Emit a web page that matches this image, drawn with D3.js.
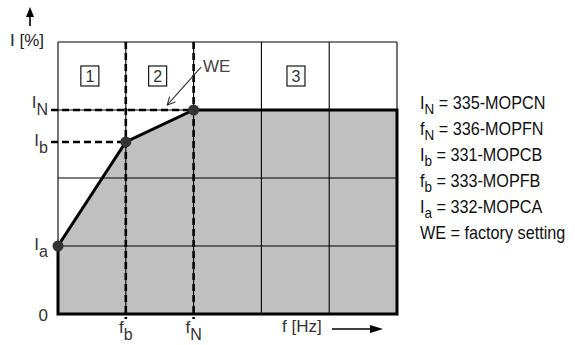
<!DOCTYPE html>
<html><head><meta charset="utf-8">
<script src="https://cdn.jsdelivr.net/npm/d3@7"></script>
<style>body{margin:0;background:#fff}</style></head>
<body><svg id="c" width="575" height="345"></svg>
<script>
// ---- data ----
const curveF = [0, 0, 1, 2, 5, 5];          // outline of operating area (f, in grid units)
const curveI = [0, 1, 2.53, 3, 3, 0];       // (I, in grid units)
const pointF = [0, 1, 2];                   // Ia, Ib, IN points
const pointI = [1, 2.53, 3];
const yTickValues = [0, 1, 2.53, 3];
const yTickMain = ["0", "I", "I", "I"];
const yTickSub = ["", "a", "b", "N"];
const xTickValues = [1, 2];
const xTickMain = ["f", "f"];
const xTickSub = ["b", "N"];
const gridF = [0, 1, 2, 3, 4, 5];
const gridI = [0, 1, 2, 3, 4];
const regionLabels = ["1", "2", "3"];
const regionF = [0.47, 1.47, 3.51];
const regionI = 3.5;
const weArrowF = [2.11, 1.61];
const weArrowI = [3.63, 3.07];
const weLabel = "WE";
const legendMain = ["I", "f", "I", "f", "I", "WE"];
const legendSub = ["N", "N", "b", "b", "a", ""];
const legendRest = ["= 335-MOPCN", "= 336-MOPFN", "= 331-MOPCB", "= 333-MOPFB", "= 332-MOPCA", "= factory setting"];
const yAxisTitle = "I [%]";
const xAxisTitle = "f [Hz]";

// ---- drawing ----
const svg = d3.select("#c");
const x = d3.scaleLinear().domain([0, 5]).range([58, 397]);
const y = d3.scaleLinear().domain([0, 4]).range([314, 42]);
const labelFont = "'Liberation Sans', Arial, sans-serif";
const txtCol = "#333";

// gray area
const pts = curveF.map((f, i) => [x(f), y(curveI[i])]);
svg.append("path").attr("d", d3.line()(pts) + "Z").attr("fill", "#c0c0c0");

// grid
svg.selectAll(".gv").data(gridF).join("line")
  .attr("x1", d => x(d)).attr("x2", d => x(d)).attr("y1", y(0)).attr("y2", y(4))
  .attr("stroke", "#000").attr("stroke-width", 1.1);
svg.selectAll(".gh").data(gridI).join("line")
  .attr("y1", d => y(d)).attr("y2", d => y(d)).attr("x1", x(0)).attr("x2", x(5))
  .attr("stroke", "#000").attr("stroke-width", 1.1);

// thick outline
svg.append("path").attr("d", d3.line()(pts) + "Z").attr("fill", "none")
  .attr("stroke", "#000").attr("stroke-width", 3).attr("stroke-linejoin", "miter");

// dashed guide lines
const dash = "7,4";
xTickValues.forEach(f => {
  svg.append("line").attr("x1", x(f)).attr("x2", x(f)).attr("y1", y(4)).attr("y2", y(0) + 5)
    .attr("stroke", "#000").attr("stroke-width", 2.6).attr("stroke-dasharray", dash);
});
[[2.53, 1], [3, 2]].forEach(([iv, f]) => {
  svg.append("line").attr("x1", x(0) - 7).attr("x2", x(f)).attr("y1", y(iv)).attr("y2", y(iv))
    .attr("stroke", "#000").attr("stroke-width", 2.6).attr("stroke-dasharray", dash);
});

// points
svg.selectAll(".pt").data(pointF).join("circle")
  .attr("cx", d => x(d)).attr("cy", (d, i) => y(pointI[i])).attr("r", 5.5).attr("fill", "#333");

// region labels
regionLabels.forEach((t, i) => {
  const cx = x(regionF[i]), cy = y(regionI);
  svg.append("rect").attr("x", cx - 9).attr("y", cy - 10).attr("width", 18).attr("height", 20)
    .attr("fill", "#fff").attr("stroke", "#000").attr("stroke-width", 1.1);
  svg.append("text").attr("x", cx).attr("y", cy + 6).attr("text-anchor", "middle")
    .attr("font-family", labelFont).attr("font-size", 16).attr("fill", txtCol).text(t);
});

// WE arrow
const ax1 = x(weArrowF[0]), ay1 = y(weArrowI[0]), ax2 = x(weArrowF[1]), ay2 = y(weArrowI[1]);
svg.append("line").attr("x1", ax1).attr("y1", ay1).attr("x2", ax2).attr("y2", ay2)
  .attr("stroke", "#333").attr("stroke-width", 1.1);
const ang = Math.atan2(ay2 - ay1, ax2 - ax1);
[0.45, -0.45].forEach(da => {
  svg.append("line").attr("x1", ax2).attr("y1", ay2)
    .attr("x2", ax2 - 9 * Math.cos(ang + da)).attr("y2", ay2 - 9 * Math.sin(ang + da))
    .attr("stroke", "#333").attr("stroke-width", 1.1);
});
svg.append("text").attr("x", ax1 + 2).attr("y", ay1 + 5).attr("font-family", labelFont)
  .attr("font-size", 17).attr("fill", "#444").text(weLabel);

// y tick labels
yTickValues.forEach((v, i) => {
  const off = yTickSub[i] === "N" ? -2 : (yTickSub[i] === "" ? 7 : 4);
  const t = svg.append("text").attr("x", x(0) - 10).attr("y", y(v) + off).attr("text-anchor", "end")
    .attr("font-family", labelFont).attr("font-size", 17).attr("fill", txtCol);
  t.append("tspan").text(yTickMain[i]);
  if (yTickSub[i]) t.append("tspan").attr("dy", 7).attr("font-size", 16).text(yTickSub[i]);
});

// x tick labels
xTickValues.forEach((v, i) => {
  const t = svg.append("text").attr("x", x(v)).attr("y", 333).attr("text-anchor", "middle")
    .attr("font-family", labelFont).attr("font-size", 17).attr("fill", txtCol);
  t.append("tspan").text(xTickMain[i]);
  t.append("tspan").attr("dy", 7).attr("font-size", 16).text(xTickSub[i]);
});

// axis titles & arrows
svg.append("text").attr("x", 10).attr("y", 46).attr("font-family", labelFont)
  .attr("font-size", 17).attr("fill", "#222").text(yAxisTitle);
svg.append("line").attr("x1", 30).attr("x2", 30).attr("y1", 26).attr("y2", 14)
  .attr("stroke", "#000").attr("stroke-width", 1.6);
svg.append("path").attr("d", "M30,7 L34,17 L26,17 Z").attr("fill", "#000");

svg.append("text").attr("x", 282).attr("y", 332).attr("font-family", labelFont)
  .attr("font-size", 17).attr("fill", txtCol).text(xAxisTitle);
svg.append("line").attr("x1", 332).attr("x2", 372).attr("y1", 329).attr("y2", 329)
  .attr("stroke", "#000").attr("stroke-width", 1.6);
svg.append("path").attr("d", "M383,329 L370,325 L370,333 Z").attr("fill", "#000");

// legend (condensed look via horizontal scale)
legendMain.forEach((m, i) => {
  const t = svg.append("text")
    .attr("transform", `translate(420,${109 + 26 * i}) scale(0.9,1)`)
    .attr("font-family", labelFont).attr("font-size", 18).attr("fill", "#111");
  t.append("tspan").text(m);
  if (legendSub[i]) {
    t.append("tspan").attr("dy", 5).attr("font-size", 15).text(legendSub[i]);
    t.append("tspan").attr("dy", -5).text(" " + legendRest[i]);
  } else {
    t.append("tspan").text(" " + legendRest[i]);
  }
});
</script></body></html>
